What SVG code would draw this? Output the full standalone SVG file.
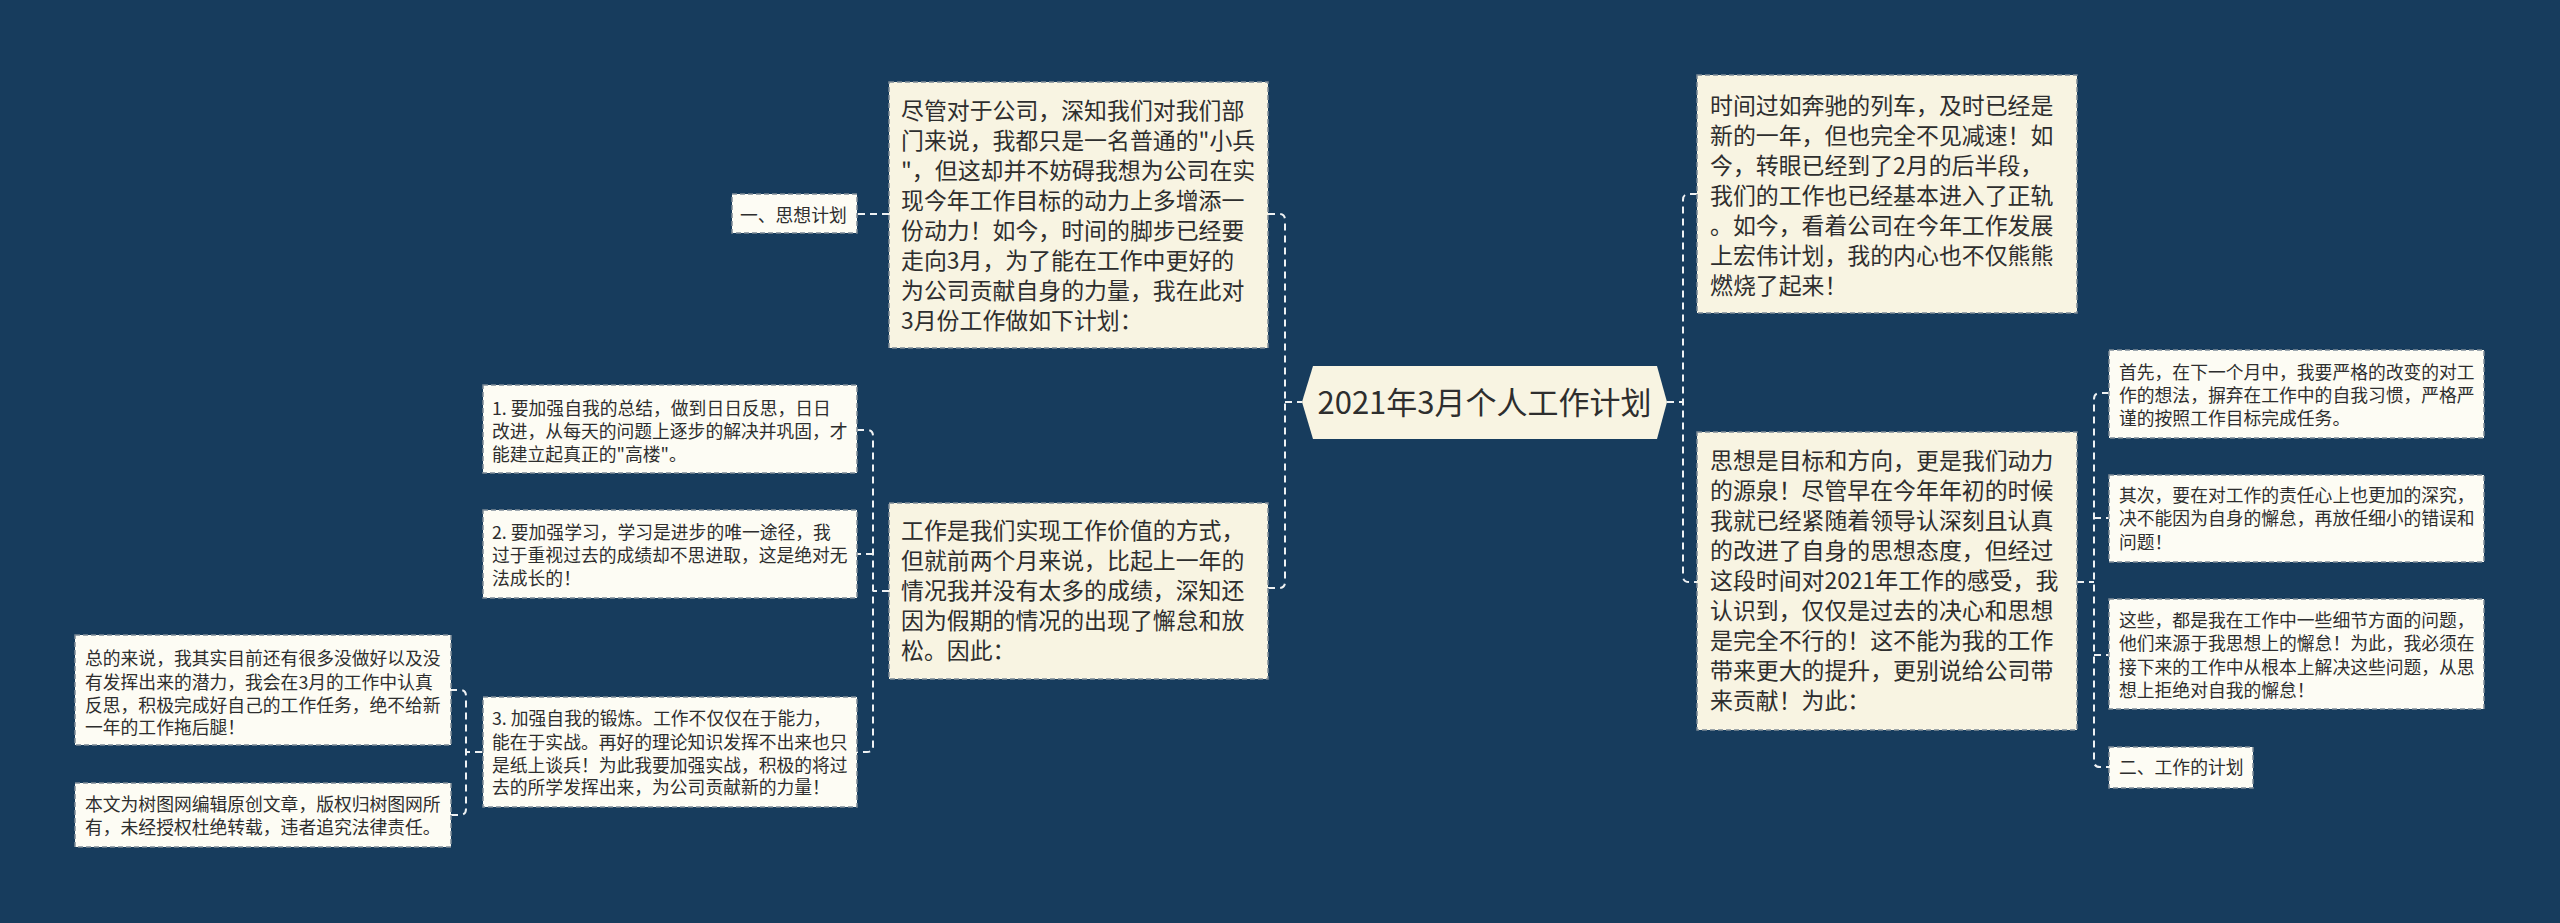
<svg xmlns="http://www.w3.org/2000/svg" width="2560" height="923" viewBox="0 0 2560 923">
<style>
.main{fill:#f8f4e2;stroke:#7d8a96;stroke-width:1.5;stroke-dasharray:5 3}
.sub{fill:#fdfcf4;stroke:#7d8a96;stroke-width:1.5;stroke-dasharray:5 3}
.t{font-family:"Noto Sans CJK SC","Noto Sans",sans-serif;fill:#2e2e2e}
.tm{font-size:22.9px}
.ts{font-size:17.8px}
.conn{fill:none;stroke:#eef1f3;stroke-width:2;stroke-dasharray:7 5}
</style>
<rect width="2560" height="923" fill="#173c5d"/>
<g id="connectors">
<path class="conn" d="M1285,402 H1302"/>
<path class="conn" d="M1268,214 H1279 Q1285,214 1285,220 V582 Q1285,588 1279,588 H1268"/>
<path class="conn" d="M1667,402 H1683"/>
<path class="conn" d="M1697,194 H1689 Q1683,194 1683,200 V576 Q1683,582 1689,582 H1697"/>
<path class="conn" d="M889,214 H857"/>
<path class="conn" d="M889,591 H873"/>
<path class="conn" d="M857,430 H867 Q873,430 873,436 V746 Q873,752 867,752 H857"/>
<path class="conn" d="M873,554 H857"/>
<path class="conn" d="M482,752 H466"/>
<path class="conn" d="M450,690 H460 Q466,690 466,696 V809 Q466,815 460,815 H450"/>
<path class="conn" d="M2077,582 H2094"/>
<path class="conn" d="M2109,393 H2100 Q2094,393 2094,399 V761 Q2094,767 2100,767 H2109"/>
<path class="conn" d="M2094,518 H2109"/>
<path class="conn" d="M2094,655 H2109"/>
</g>
<g id="root">
<polygon points="1302,402 1313,366 1657,366 1667,402 1657,439 1313,439" fill="#f8f4e2"/>
<text class="t" x="1484.5" y="414" font-size="31" text-anchor="middle">2021年3月个人工作计划</text>
</g>
<g id="left-top">
<rect class="main" x="889" y="82" width="379" height="266"/>
<text class="t tm" x="901"><tspan x="901" y="119">尽管对于公司，深知我们对我们部</tspan><tspan x="901" y="149">门来说，我都只是一名普通的"小兵</tspan><tspan x="901" y="179">"，但这却并不妨碍我想为公司在实</tspan><tspan x="901" y="209">现今年工作目标的动力上多增添一</tspan><tspan x="901" y="239">份动力！如今，时间的脚步已经要</tspan><tspan x="901" y="269">走向3月，为了能在工作中更好的</tspan><tspan x="901" y="299">为公司贡献自身的力量，我在此对</tspan><tspan x="901" y="329">3月份工作做如下计划：</tspan></text>
</g>
<g id="left-top-label">
<rect class="sub" x="732" y="194" width="125" height="39"/>
<text class="t" x="740" y="222" font-size="17.8">一、思想计划</text>
</g>
<g id="left-bottom">
<rect class="main" x="889" y="503" width="379" height="176"/>
<text class="t tm"><tspan x="901" y="539">工作是我们实现工作价值的方式，</tspan><tspan x="901" y="569">但就前两个月来说，比起上一年的</tspan><tspan x="901" y="599">情况我并没有太多的成绩，深知还</tspan><tspan x="901" y="629">因为假期的情况的出现了懈怠和放</tspan><tspan x="901" y="659">松。因此：</tspan></text>
</g>
<g id="lb-1">
<rect class="sub" x="483" y="385" width="374" height="88"/>
<text class="t ts"><tspan x="492" y="415">1. 要加强自我的总结，做到日日反思，日日</tspan><tspan x="492" y="438">改进，从每天的问题上逐步的解决并巩固，才</tspan><tspan x="492" y="461">能建立起真正的"高楼"。</tspan></text>
</g>
<g id="lb-2">
<rect class="sub" x="483" y="510" width="374" height="88"/>
<text class="t ts"><tspan x="492" y="539">2. 要加强学习，学习是进步的唯一途径，我</tspan><tspan x="492" y="562">过于重视过去的成绩却不思进取，这是绝对无</tspan><tspan x="492" y="585">法成长的！</tspan></text>
</g>
<g id="lb-3">
<rect class="sub" x="483" y="697" width="374" height="110"/>
<text class="t ts"><tspan x="492" y="725">3. 加强自我的锻炼。工作不仅仅在于能力，</tspan><tspan x="492" y="749">能在于实战。再好的理论知识发挥不出来也只</tspan><tspan x="492" y="772">是纸上谈兵！为此我要加强实战，积极的将过</tspan><tspan x="492" y="794">去的所学发挥出来，为公司贡献新的力量！</tspan></text>
</g>
<g id="lb-3-1">
<rect class="sub" x="75" y="635" width="376" height="110"/>
<text class="t ts"><tspan x="85" y="665">总的来说，我其实目前还有很多没做好以及没</tspan><tspan x="85" y="689">有发挥出来的潜力，我会在3月的工作中认真</tspan><tspan x="85" y="712">反思，积极完成好自己的工作任务，绝不给新</tspan><tspan x="85" y="734">一年的工作拖后腿！</tspan></text>
</g>
<g id="lb-3-2">
<rect class="sub" x="75" y="783" width="376" height="64"/>
<text class="t ts"><tspan x="85" y="811">本文为树图网编辑原创文章，版权归树图网所</tspan><tspan x="85" y="834">有，未经授权杜绝转载，违者追究法律责任。</tspan></text>
</g>
<g id="right-top">
<rect class="main" x="1697" y="75" width="380" height="238"/>
<text class="t tm"><tspan x="1710" y="114">时间过如奔驰的列车，及时已经是</tspan><tspan x="1710" y="144">新的一年，但也完全不见减速！如</tspan><tspan x="1710" y="174">今，转眼已经到了2月的后半段，</tspan><tspan x="1710" y="204">我们的工作也已经基本进入了正轨</tspan><tspan x="1710" y="234">。如今，看着公司在今年工作发展</tspan><tspan x="1710" y="264">上宏伟计划，我的内心也不仅熊熊</tspan><tspan x="1710" y="294">燃烧了起来！</tspan></text>
</g>
<g id="right-bottom">
<rect class="main" x="1697" y="432" width="380" height="298"/>
<text class="t tm"><tspan x="1710" y="469">思想是目标和方向，更是我们动力</tspan><tspan x="1710" y="499">的源泉！尽管早在今年年初的时候</tspan><tspan x="1710" y="529">我就已经紧随着领导认深刻且认真</tspan><tspan x="1710" y="559">的改进了自身的思想态度，但经过</tspan><tspan x="1710" y="589">这段时间对2021年工作的感受，我</tspan><tspan x="1710" y="619">认识到，仅仅是过去的决心和思想</tspan><tspan x="1710" y="649">是完全不行的！这不能为我的工作</tspan><tspan x="1710" y="679">带来更大的提升，更别说给公司带</tspan><tspan x="1710" y="709">来贡献！为此：</tspan></text>
</g>
<g id="rb-1">
<rect class="sub" x="2109" y="350" width="375" height="88"/>
<text class="t ts"><tspan x="2119" y="379">首先，在下一个月中，我要严格的改变的对工</tspan><tspan x="2119" y="402">作的想法，摒弃在工作中的自我习惯，严格严</tspan><tspan x="2119" y="425">谨的按照工作目标完成任务。</tspan></text>
</g>
<g id="rb-2">
<rect class="sub" x="2109" y="475" width="375" height="87"/>
<text class="t ts"><tspan x="2119" y="502">其次，要在对工作的责任心上也更加的深究，</tspan><tspan x="2119" y="525">决不能因为自身的懈怠，再放任细小的错误和</tspan><tspan x="2119" y="549">问题！</tspan></text>
</g>
<g id="rb-3">
<rect class="sub" x="2109" y="599" width="375" height="110"/>
<text class="t ts"><tspan x="2119" y="627">这些，都是我在工作中一些细节方面的问题，</tspan><tspan x="2119" y="650">他们来源于我思想上的懈怠！为此，我必须在</tspan><tspan x="2119" y="674">接下来的工作中从根本上解决这些问题，从思</tspan><tspan x="2119" y="697">想上拒绝对自我的懈怠！</tspan></text>
</g>
<g id="rb-4">
<rect class="sub" x="2109" y="747" width="144" height="41"/>
<text class="t ts" x="2119" y="774">二、工作的计划</text>
</g>
</svg>
